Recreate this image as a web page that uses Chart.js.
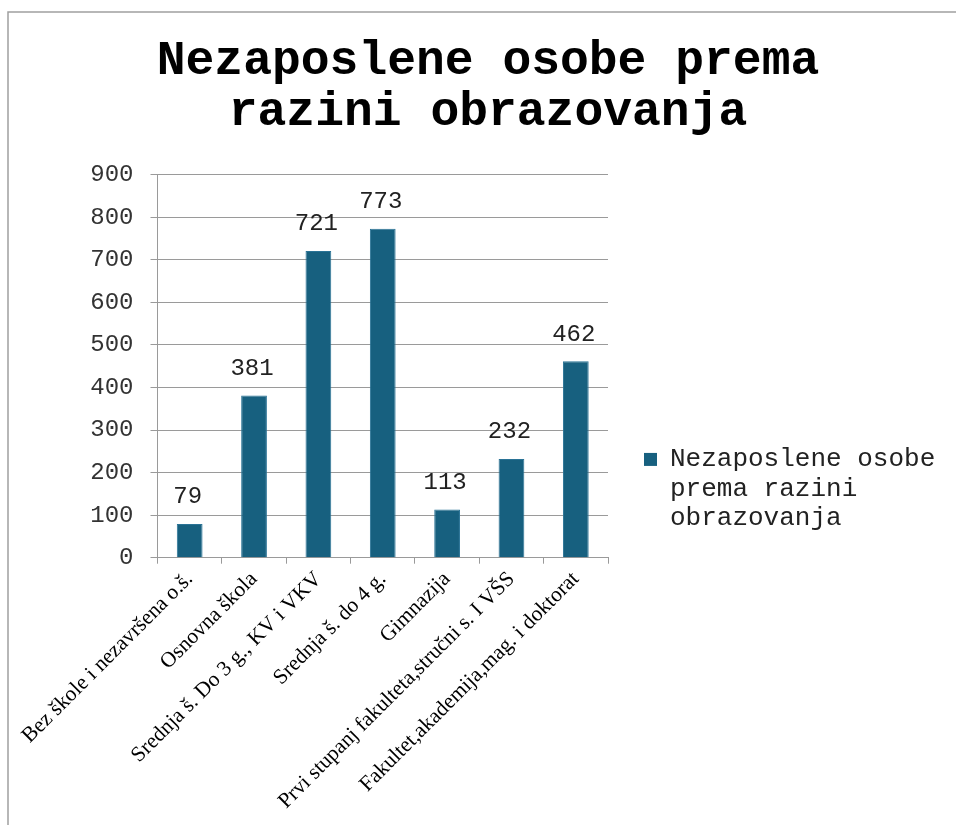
<!DOCTYPE html>
<html>
<head>
<meta charset="utf-8">
<script src="https://cdn.jsdelivr.net/npm/chart.js@4"></script>
<style>
  html, body { margin: 0; padding: 0; background: #fff; }
  #wrap { width: 956px; height: 825px; }
</style>
</head>
<body>
<div id="wrap"><canvas id="eduChart" width="956" height="825"></canvas></div>
<script>
// data
var categories = [
  'Bez škole i nezavršena o.š.',
  'Osnovna škola',
  'Srednja š. Do 3 g., KV i VKV',
  'Srednja š. do 4 g.',
  'Gimnazija',
  'Prvi stupanj fakulteta,stručni s. I VŠS',
  'Fakultet,akademija,mag. i doktorat'
];
var values = [79, 381, 721, 773, 113, 232, 462];
var seriesName = 'Nezaposlene osobe prema razini obrazovanja';
var legendLines = ['Nezaposlene osobe', 'prema razini', 'obrazovanja'];
var titleLines = ['Nezaposlene osobe prema', 'razini obrazovanja'];
var yMin = 0, yMax = 900, yStep = 100;

var barColor = '#17607f';
var mono = '"Liberation Mono", "Courier New", monospace';
var legendWidth = 344;

// grey frame on top and left like the original sheet
var framePlugin = {
  id: 'frame',
  beforeDraw: function (chart) {
    var ctx = chart.ctx;
    ctx.save();
    ctx.strokeStyle = '#a0a0a0';
    ctx.lineWidth = 1.5;
    ctx.beginPath();
    ctx.moveTo(8, chart.height);
    ctx.lineTo(8, 12);
    ctx.lineTo(chart.width, 12);
    ctx.stroke();
    ctx.restore();
  }
};

// the side legend is capped at a quarter of the width, let it be as wide as the text
var wideLegend = {
  id: 'wideLegend',
  beforeLayout: function (chart) {
    var lg = chart.legend;
    if (lg && !lg._wide) {
      var fit = lg.fit;
      lg.fit = function () {
        fit.apply(this, arguments);
        if (!this.isHorizontal()) this.width = legendWidth;
      };
      lg._wide = true;
    }
  }
};

// values above the bars
var valueLabels = {
  id: 'valueLabels',
  afterDatasetsDraw: function (chart) {
    var ctx = chart.ctx;
    var meta = chart.getDatasetMeta(0);
    ctx.save();
    ctx.font = '24px ' + mono;
    ctx.fillStyle = '#222';
    ctx.textAlign = 'center';
    ctx.textBaseline = 'middle';
    meta.data.forEach(function (bar, i) {
      ctx.fillText(String(chart.data.datasets[0].data[i]), bar.x - 2, bar.y - 27);
    });
    ctx.restore();
  }
};

var chart = new Chart(document.getElementById('eduChart'), {
  type: 'bar',
  data: {
    labels: categories,
    datasets: [{
      label: seriesName,
      data: values,
      backgroundColor: barColor,
      borderColor: '#2a7396',
      borderWidth: 1,
      categoryPercentage: 1,
      barPercentage: 0.4
    }]
  },
  options: {
    responsive: false,
    animation: false,
    layout: { padding: { left: 24, right: 4, top: 0, bottom: 0 } },
    plugins: {
      title: {
        display: true,
        text: titleLines,
        color: '#000',
        font: { family: mono, size: 48, weight: 'bold', lineHeight: 1.05 },
        padding: { top: 37, bottom: 37 }
      },
      legend: {
        position: 'right',
        title: { display: true, text: '', font: { size: 12, lineHeight: 1 }, padding: 72 },
        labels: {
          boxWidth: 13,
          boxHeight: 13,
          padding: 36,
          color: '#222',
          font: { family: mono, size: 26, lineHeight: 1.13 },
          generateLabels: function (c) {
            var ds = c.data.datasets[0];
            return [{
              text: legendLines,
              fillStyle: ds.backgroundColor,
              strokeStyle: ds.backgroundColor,
              fontColor: '#222',
              lineWidth: 0,
              datasetIndex: 0
            }];
          }
        }
      },
      tooltip: { enabled: false }
    },
    scales: {
      x: {
        grid: { drawOnChartArea: false, drawTicks: true, tickLength: 6, color: '#9a9a9a' },
        border: { color: '#9a9a9a' },
        ticks: {
          minRotation: 45,
          maxRotation: 45,
          autoSkip: false,
          color: '#000',
          font: { family: '"Liberation Serif", "Times New Roman", serif', size: 21.5 }
        },
        afterFit: function (s) { s.height = 825 - 557.7; }
      },
      y: {
        min: yMin,
        max: yMax,
        grid: { color: '#9a9a9a', tickLength: 7 },
        border: { color: '#9a9a9a' },
        ticks: {
          stepSize: yStep,
          padding: 17,
          color: '#333',
          font: { family: mono, size: 24 }
        },
        afterFit: function (s) { s.width = 157.5 - 24; }
      }
    }
  },
  plugins: [framePlugin, wideLegend, valueLabels]
});
</script>
</body>
</html>
